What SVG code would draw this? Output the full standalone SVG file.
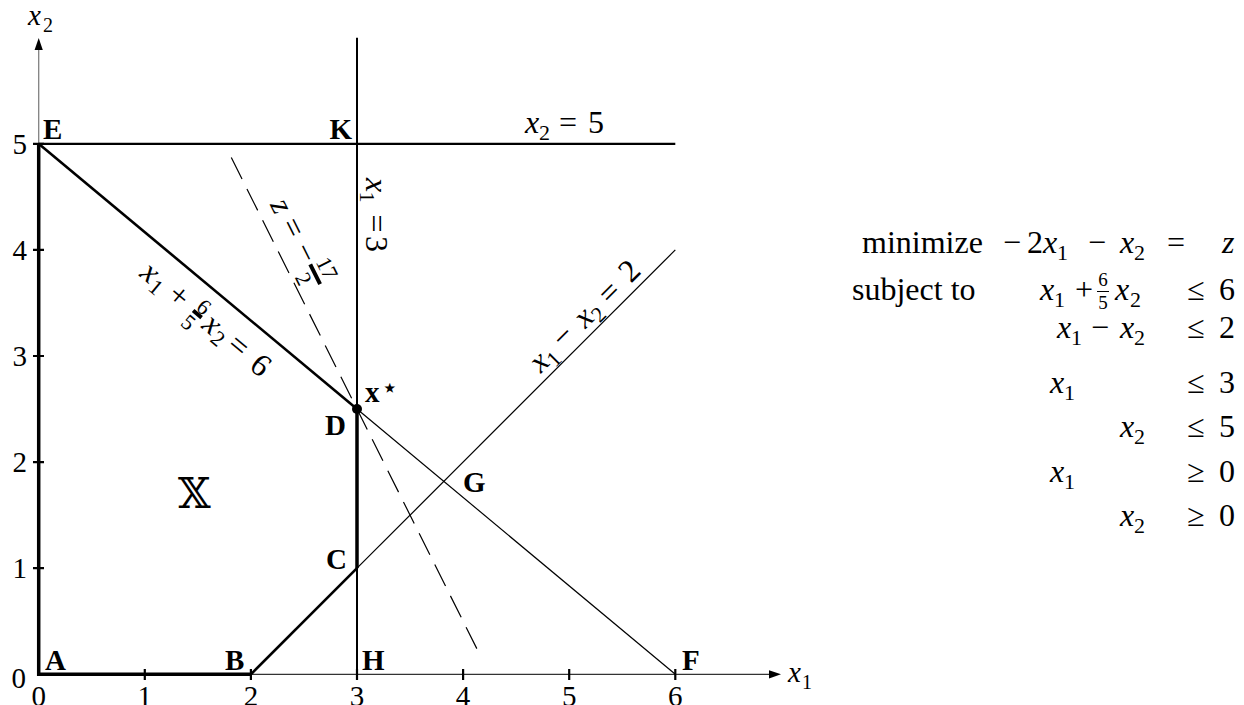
<svg xmlns="http://www.w3.org/2000/svg" width="1244" height="705" viewBox="0 0 1244 705" font-family="Liberation Serif">
<style>
text{font-family:"Liberation Serif",serif;fill:#000}
.m{font-size:32px}
.i{font-style:italic}
.s{font-size:22px}
.f{font-size:19px}
.b{font-size:29px;font-weight:bold}
.tk{font-size:29px}
.c{text-anchor:middle}
.e{text-anchor:end}
.ln{stroke:#000;fill:none}
.thin{stroke-width:1.2}
.med{stroke-width:2.2}
.bar{stroke:#000;stroke-width:4}
</style>
<rect width="1244" height="705" fill="#fff"/>

<g id="axes">
  <path d="M38.7,143.8 V49" stroke="#808080" stroke-width="1.3" fill="none"/>
  <path d="M38.7,38 L34.6,50 L42.8,50 Z" fill="#000"/>
  <path d="M250.9,674.3 H770" stroke="#333" stroke-width="1.3" fill="none"/>
  <path d="M781,674.3 L769,670.2 L769,678.4 Z" fill="#000"/>
  <path class="ln med" d="M144.8,669 V680 M250.9,669 V680 M357,669 V680 M463.1,669 V680 M569.2,669 V680 M675.3,669 V680"/>
  <path class="ln med" d="M33,568.2 H44 M33,462.1 H44 M33,356 H44 M33,249.9 H44 M33,143.8 H44"/>
</g>

<g id="tick-labels" class="tk">
  <text class="c" x="38.7" y="706">0</text>
  <text class="c" x="144.8" y="706">1</text>
  <text class="c" x="250.9" y="706">2</text>
  <text class="c" x="357" y="706">3</text>
  <text class="c" x="463.1" y="706">4</text>
  <text class="c" x="569.2" y="706">5</text>
  <text class="c" x="675.3" y="706">6</text>
  <text class="e" x="26" y="688">0</text>
  <text class="e" x="27" y="578">1</text>
  <text class="e" x="27" y="472">2</text>
  <text class="e" x="27" y="366">3</text>
  <text class="e" x="27" y="260">4</text>
  <text class="e" x="27" y="154">5</text>
</g>

<g id="axis-labels">
  <text x="28" y="25" class="i" font-size="29">x</text><text x="43" y="32" font-size="20">2</text>
  <text x="788" y="682" class="i" font-size="29">x</text><text x="802" y="689" font-size="20">1</text>
</g>

<g id="constraints">
  <path class="ln med" d="M38.7,143.8 H675.3"/>
  <path class="ln" stroke-width="2" d="M357,37.7 V674.3"/>
  <path class="ln thin" d="M357,409 L675.3,674.3"/>
  <path class="ln thin" d="M357,568.2 L675.3,249.9"/>
  <path class="ln thin" stroke-dasharray="24 11" d="M231.3,157.6 L481.7,658.4"/>
</g>

<g id="feasible-region">
  <path class="ln" stroke-width="3.5" d="M38.7,143.8 V674.3 H250.9"/>
  <path class="ln" stroke-width="2.6" d="M250.9,674.3 L357,568.2"/>
  <path class="ln" stroke-width="3.5" d="M357,568.2 V409"/>
  <path class="ln" stroke-width="2.6" d="M357,409 L38.7,143.8"/>
  <circle cx="357" cy="409" r="5" fill="#000"/>
</g>

<g id="vertex-labels" class="b">
  <text x="45" y="670">A</text>
  <text x="225" y="670">B</text>
  <text x="326" y="569">C</text>
  <text x="325" y="435">D</text>
  <text x="43" y="139">E</text>
  <text x="682" y="670">F</text>
  <text x="463" y="492">G</text>
  <text x="362" y="670">H</text>
  <text class="e" x="352" y="139">K</text>
  <text x="365" y="402">x</text>
  <text x="381" y="397" font-size="28" font-weight="normal" style="font-family:'DejaVu Sans',sans-serif">⋆</text>
</g>

<g id="region-label">
  <text x="178" y="508" font-size="42" style="font-family:'DejaVu Serif',serif">𝕏</text>
</g>

<g id="line-labels">
  <g id="label-x2-5">
    <text class="m i" x="525" y="133">x</text>
    <text class="s" x="539" y="140">2</text>
    <text class="m c" x="568" y="133">=</text>
    <text class="m" x="588" y="133">5</text>
  </g>

  <g id="label-x1-3" transform="translate(366,178) rotate(90)">
    <text class="m i c" x="7.1" y="0">x</text>
    <text class="s c" x="19" y="6">1</text>
    <text class="m c" x="45.5" y="0">=</text>
    <text class="m c" x="66" y="0">3</text>
  </g>

  <g id="label-z" transform="translate(270,204) rotate(63.435)">
    <text class="m i c" x="6.7" y="0.5">z</text>
    <text class="m c" x="31.5" y="0">=</text>
    <text class="m c" x="59.5" y="0">−</text>
    <line class="bar" x1="72" y1="-9" x2="94" y2="-9"/>
    <text class="s c" x="83" y="-15">17</text>
    <text class="s c" x="82" y="10.8">2</text>
  </g>

  <g id="label-c1" transform="translate(140,265) rotate(39.806)">
    <text class="m i c" x="12.7" y="9">x</text>
    <text class="s c" x="26.4" y="14">1</text>
    <text class="m c" x="49.6" y="9">+</text>
    <text class="s c" x="76" y="-1.5">6</text>
    <line class="bar" x1="70" y1="1" x2="81" y2="1"/>
    <text class="s c" x="74" y="20.5">5</text>
    <text class="m i c" x="93.5" y="9">x</text>
    <text class="s c" x="106.9" y="14">2</text>
    <text class="m c" x="127.5" y="9">=</text>
    <text class="m c" x="156.8" y="10">6</text>
  </g>

  <g id="label-c2" transform="translate(530,375) rotate(-45)">
    <text class="m i c" x="15.8" y="7">x</text>
    <text class="s c" x="28.3" y="13">1</text>
    <text class="m c" x="50.9" y="6">−</text>
    <text class="m i c" x="78.7" y="7">x</text>
    <text class="s c" x="91.2" y="13">2</text>
    <text class="m c" x="114.5" y="8">=</text>
    <text class="m c" x="143.9" y="7">2</text>
  </g>
</g>

<g id="lp" class="m">
  <text class="m" x="862" y="253">minimize</text>
  <text class="m c" x="1012" y="253">−</text>
  <text class="m" x="1027" y="253">2</text>
  <text class="m i" x="1043" y="253">x</text><text class="s" x="1057" y="260">1</text>
  <text class="m c" x="1097" y="253">−</text>
  <text class="m i" x="1120" y="253">x</text><text class="s" x="1134" y="260">2</text>
  <text class="m c" x="1176" y="253">=</text>
  <text class="m i" x="1222" y="253">z</text>

  <text class="m" x="852" y="300">subject to</text>
  <text class="m i" x="1040" y="300">x</text><text class="s" x="1054" y="307">1</text>
  <text class="m c" x="1084" y="300">+</text>
  <text class="f c" x="1103" y="286">6</text>
  <line x1="1097" y1="291.5" x2="1109" y2="291.5" stroke="#000" stroke-width="1"/>
  <text class="f c" x="1103" y="309">5</text>
  <text class="m i" x="1115" y="300">x</text><text class="s" x="1130" y="307">2</text>
  <text class="m c" x="1196" y="300">≤</text>
  <text class="m" x="1219" y="300">6</text>

  <text class="m i" x="1057" y="338">x</text><text class="s" x="1071" y="345">1</text>
  <text class="m c" x="1100" y="338">−</text>
  <text class="m i" x="1120" y="338">x</text><text class="s" x="1134" y="345">2</text>
  <text class="m c" x="1196" y="338">≤</text>
  <text class="m" x="1219" y="338">2</text>

  <text class="m i" x="1050" y="393">x</text><text class="s" x="1064" y="400">1</text>
  <text class="m c" x="1196" y="393">≤</text>
  <text class="m" x="1219" y="393">3</text>

  <text class="m i" x="1120" y="437">x</text><text class="s" x="1134" y="444">2</text>
  <text class="m c" x="1196" y="437">≤</text>
  <text class="m" x="1219" y="437">5</text>

  <text class="m i" x="1050" y="482">x</text><text class="s" x="1064" y="489">1</text>
  <text class="m c" x="1196" y="482">≥</text>
  <text class="m" x="1219" y="482">0</text>

  <text class="m i" x="1120" y="526">x</text><text class="s" x="1134" y="533">2</text>
  <text class="m c" x="1196" y="526">≥</text>
  <text class="m" x="1219" y="526">0</text>
</g>
</svg>
